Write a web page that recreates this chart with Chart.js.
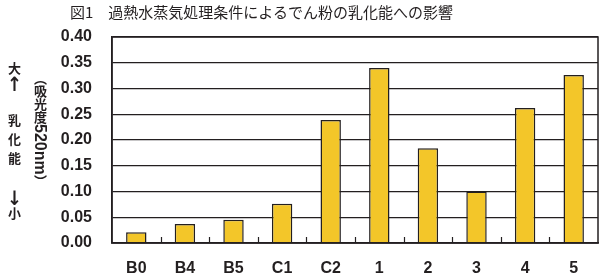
<!DOCTYPE html>
<html lang="ja">
<head>
<meta charset="utf-8">
<script src="https://cdn.jsdelivr.net/npm/chart.js@4.4.0/dist/chart.umd.min.js"></script>
<style>
  body { margin: 0; background: #fff; }
  #wrap { position: relative; width: 601px; height: 277px; }
  #chart { position: absolute; left: 0; top: 0; }
  .txt { position: absolute; color: #231f20; white-space: nowrap; }
  #title { left: 70px; top: 4px; font: 15px/15px "Noto Sans CJK JP", sans-serif; }
  .vert { writing-mode: vertical-rl; font-family: "Noto Sans CJK JP", sans-serif; font-weight: 700; }
  .up { text-orientation: upright; }
  .arr { font: bold 18px/18px "DejaVu Sans", sans-serif; width: 13px; text-align: center; left: 7px;
         transform: scaleY(1.1); }
  #big { left: 8px; top: 62px; font-size: 13px; line-height: 13px; }
  #upArr { top: 75px; }
  #mid { left: 8px; top: 114px; font-size: 13px; line-height: 13px; letter-spacing: 6px; }
  #dnArr { top: 189px; }
  #small { left: 8px; top: 207px; font-size: 13px; line-height: 13px; }
  #unit { left: 34px; top: 72px; font-size: 13px; line-height: 13px; }
  #unit .lat { font-family: "Liberation Sans", sans-serif; font-size: 16px; }
</style>
</head>
<body>
<div id="wrap">
  <canvas id="chart" width="601" height="277"></canvas>
  <div id="title" class="txt">図1　過熱水蒸気処理条件によるでん粉の乳化能への影響</div>
  <div id="big" class="txt vert up">大</div>
  <div id="upArr" class="txt arr">↑</div>
  <div id="mid" class="txt vert up">乳化能</div>
  <div id="dnArr" class="txt arr">↓</div>
  <div id="small" class="txt vert up">小</div>
  <div id="unit" class="txt vert">（吸光度<span class="lat">520nm</span>）</div>
</div>
<script>
// データ
const categories = ["B0", "B4", "B5", "C1", "C2", "1", "2", "3", "4", "5"];
const absorbance = [0.021, 0.037, 0.045, 0.076, 0.239, 0.340, 0.184, 0.100, 0.262, 0.326];

const INK = "#231f20";
const tickFont = { family: "'Liberation Sans', Arial, sans-serif", size: 16, weight: "bold" };

// 枠線 + カテゴリ間の内向き目盛り
const framePlugin = {
  id: "frame",
  afterDraw(chart) {
    const { ctx, chartArea: a } = chart;
    const x = chart.scales.x;
    ctx.save();
    ctx.strokeStyle = INK;
    ctx.lineWidth = 1.5;
    ctx.strokeRect(a.left, a.top, a.right - a.left, a.bottom - a.top);
    ctx.lineWidth = 1.2;
    for (let i = 1; i < categories.length; i++) {
      const px = Math.round((x.getPixelForValue(i - 1) + x.getPixelForValue(i)) / 2) + 0.5;
      ctx.beginPath();
      ctx.moveTo(px, a.bottom);
      ctx.lineTo(px, a.bottom - 6);
      ctx.stroke();
    }
    ctx.restore();
  }
};

new Chart(document.getElementById("chart"), {
  type: "bar",
  data: {
    labels: categories,
    datasets: [{
      data: absorbance,
      backgroundColor: "#f3c629",
      borderColor: INK,
      borderWidth: 1.5,
      barPercentage: 0.42,
      categoryPercentage: 1.0
    }]
  },
  options: {
    responsive: false,
    animation: false,
    devicePixelRatio: 1,
    layout: { padding: { top: 37, right: 3, bottom: 0, left: 0 } },
    plugins: { legend: { display: false }, tooltip: { enabled: false } },
    scales: {
      x: {
        grid: { display: false, drawTicks: false },
        border: { display: true, color: INK, width: 1.5 },
        ticks: { color: INK, font: tickFont, padding: 16 },
        afterFit(scale) { scale.height = 34; }
      },
      y: {
        min: 0,
        max: 0.4,
        grid: { color: INK, lineWidth: 1.3, drawTicks: false },
        border: { display: true, color: INK, width: 1.5 },
        ticks: {
          stepSize: 0.05,
          color: INK,
          font: tickFont,
          padding: 20,
          callback: v => v.toFixed(2)
        },
        afterFit(scale) { scale.width = 112; }
      }
    }
  },
  plugins: [framePlugin]
});
</script>
</body>
</html>
